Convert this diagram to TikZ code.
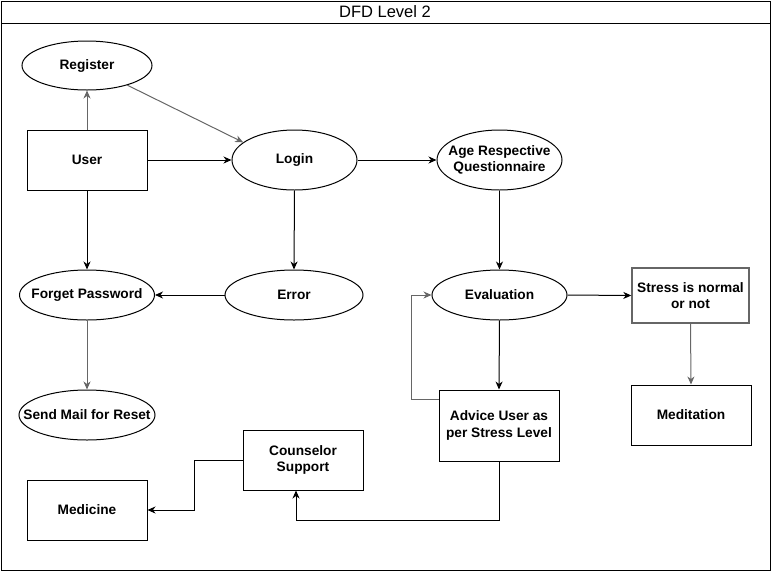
\documentclass[tikz,border=0pt]{standalone}
\usepackage{fontspec}
\setmainfont{Liberation Sans}
\usetikzlibrary{shapes.geometric,arrows.meta}
\definecolor{lgray}{RGB}{102,102,102}
\tikzset{
  txt/.style={inner sep=0pt, align=center, font=\bfseries\fontsize{13.7}{16.5}\selectfont},
  base/.style={draw=black, line width=1pt, inner sep=0pt, align=center,
    font=\bfseries\fontsize{13.7}{16.5}\selectfont},
  proc/.style={draw=black, line width=1pt, inner sep=0pt, ellipse},
  boxn/.style={base, rectangle},
  arr/.style={draw=black, line width=1pt, -{Stealth[length=8pt,width=7pt,inset=2.5pt]}},
  garr/.style={arr, draw=lgray},
  line/.style={draw=black, line width=1pt}
}
\begin{document}
\begin{tikzpicture}[x=1pt,y=-1pt]
\useasboundingbox (0,0) rectangle (772,571);
% frame
\draw[line] (1,1) rectangle (770,570);
\draw[line] (1,23) -- (770,23);
\node[font=\fontsize{16.5}{20}\selectfont] (title) at (385,12) {DFD Level 2};

% nodes
\node[proc, minimum width=130pt, minimum height=49pt, label={[txt]center:Register}] (reg) at (87,65.5) {};
\node[boxn, minimum width=120pt, minimum height=60pt] (user) at (87,160) {User};
\node[proc, minimum width=125pt, minimum height=60pt, label={[txt]center:Login}] (login) at (294.5,160) {};
\node[proc, minimum width=125pt, minimum height=60pt, label={[txt]center:{Age Respective\\Questionnaire}}] (age) at (499.5,160) {};
\node[proc, minimum width=135pt, minimum height=50pt, label={[txt]center:Forget Password}] (forget) at (87,295) {};
\node[proc, minimum width=138pt, minimum height=50pt, label={[txt]center:Error}] (err) at (294,295) {};
\node[proc, minimum width=135pt, minimum height=50pt, label={[txt]center:Evaluation}] (eval) at (499.5,295) {};
\node[boxn, draw=lgray, line width=1.4pt, minimum width=117pt, minimum height=55pt] (stress) at (690.5,295.5) {Stress is normal\\or not};
\node[proc, minimum width=136pt, minimum height=50pt, label={[txt]center:Send Mail for Reset}] (mail) at (87,415) {};
\node[boxn, minimum width=120pt, minimum height=71pt] (adv) at (499,425.5) {Advice User as\\per Stress Level};
\node[boxn, minimum width=120pt, minimum height=60pt] (med) at (691,415) {Meditation};
\node[boxn, minimum width=120pt, minimum height=60pt] (coun) at (303,460) {Counselor\\Support};
\node[boxn, minimum width=120pt, minimum height=60pt] (medi) at (87,510) {Medicine};

% connectors
\draw[garr] (user.north) -- (reg.south);
\draw[garr] (reg.-26) -- (login.161);
\draw[arr] (user.east) -- (login.west);
\draw[arr] (login.east) -- (age.west);
\draw[arr] (login.south) -- (err.north);
\draw[arr] (user.south) -- (forget.north);
\draw[arr] (err.west) -- (forget.east);
\draw[garr] (forget.south) -- (mail.north);
\draw[arr] (age.south) -- (eval.north);
\draw[arr] (eval.east) -- (stress.west);
\draw[garr] (stress.south) -- (med.north);
\draw[arr] (eval.south) -- (adv.north);
\draw[garr] ([yshift=-10pt]adv.north west) -- ++(-27,0) |- (eval.west);
\draw[arr] (adv.south) -- ++(0,59) -| ([xshift=-7pt]coun.south);
\draw[arr] (coun.west) -- ++(-48,0) |- (medi.east);
\end{tikzpicture}
\end{document}
